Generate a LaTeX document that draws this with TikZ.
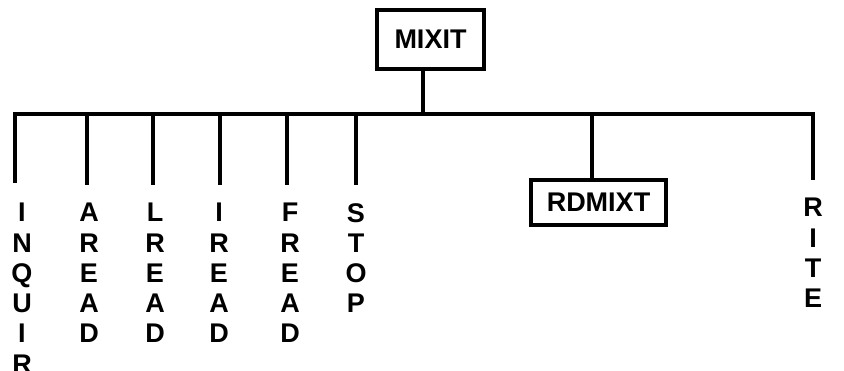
\documentclass[tikz,border=0pt]{standalone}
\usepackage{fontspec}
\setmainfont{Liberation Sans}
\begin{document}
\begin{tikzpicture}[x=1pt,y=-1pt,
  wire/.style={line width=4pt, line join=miter},
  boxnode/.style={draw, line width=4pt, inner sep=0pt, font=\fontsize{27}{30}\selectfont\bfseries},
  vlabel/.style={inner sep=0pt, anchor=north, align=center, font=\fontsize{27}{30.3}\selectfont\bfseries}]
\useasboundingbox (0,0) rectangle (844,370);
% boxes
\node[boxnode, minimum width=107pt, minimum height=59pt] (mixit) at (430.5,39.5) {MIXIT};
\node[boxnode, minimum width=135pt, minimum height=45pt] (rdmixt) at (598.5,202.5) {RDMIXT};
% bus junctions
\coordinate (jinq) at (15,114);
\coordinate (jare) at (87,114);
\coordinate (jlre) at (153,114);
\coordinate (jire) at (220,114);
\coordinate (jfre) at (287,114);
\coordinate (jsto) at (356,114);
\coordinate (jm) at (423,114);
\coordinate (jrd) at (592,114);
\coordinate (jrit) at (813,114);
% stem ends
\coordinate (einq) at (15,183);
\coordinate (eare) at (87,185);
\coordinate (elre) at (153,185);
\coordinate (eire) at (220,185);
\coordinate (efre) at (287,185);
\coordinate (esto) at (356,185);
\coordinate (erit) at (813,180);
% labels
\node[vlabel] (inquir) at (22,203) {I\\N\\Q\\U\\I\\R};
\node[vlabel] (aread) at (89,203) {A\\R\\E\\A\\D};
\node[vlabel] (lread) at (155,203) {L\\R\\E\\A\\D};
\node[vlabel] (iread) at (219,203) {I\\R\\E\\A\\D};
\node[vlabel] (fread) at (290,203) {F\\R\\E\\A\\D};
\node[vlabel] (stop) at (356,203) {S\\T\\O\\P};
\node[vlabel] (rite) at (813,198) {R\\I\\T\\E};
% connectors
\draw[wire] (einq) -- (jinq) -- (jrit) -- (erit);
\draw[wire] (mixit.south -| jm) -- (jm);
\draw[wire] (jare) -- (eare);
\draw[wire] (jlre) -- (elre);
\draw[wire] (jire) -- (eire);
\draw[wire] (jfre) -- (efre);
\draw[wire] (jsto) -- (esto);
\draw[wire] (jrd) -- (rdmixt.north -| jrd);
\end{tikzpicture}
\end{document}
